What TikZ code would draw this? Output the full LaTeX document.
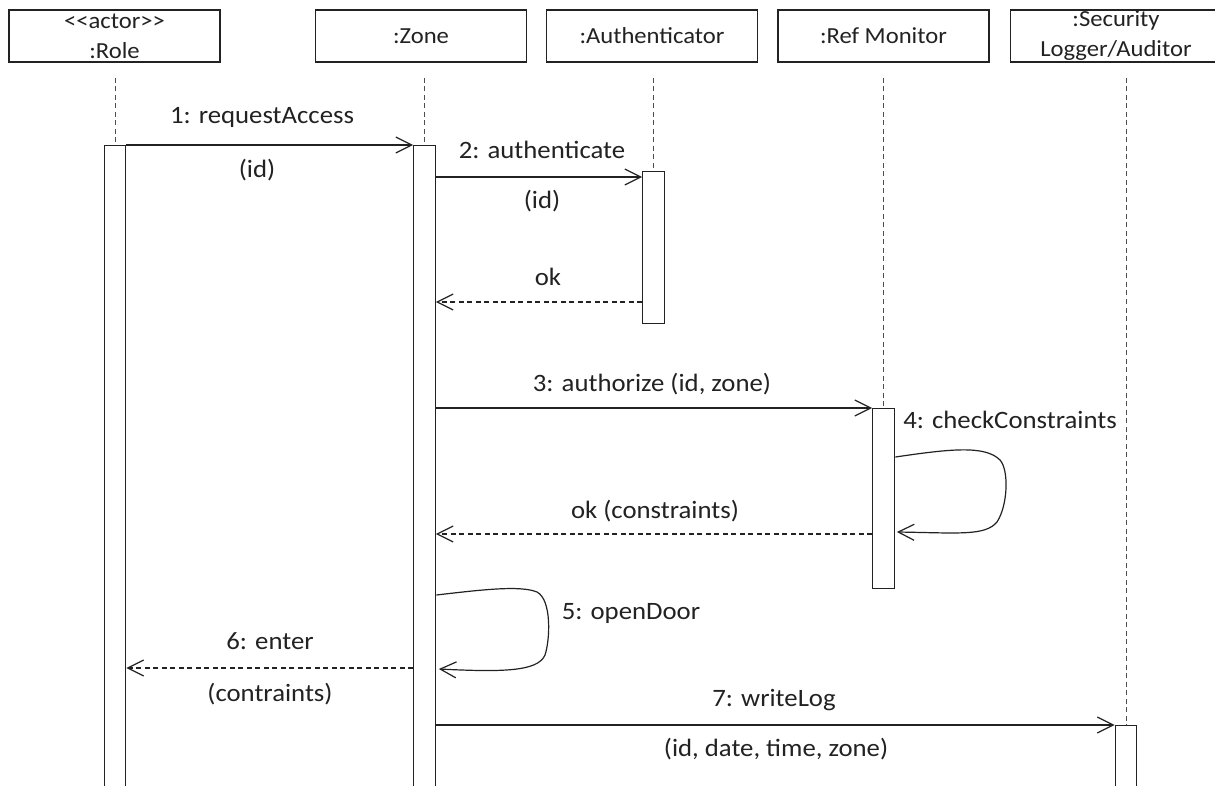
\documentclass[tikz,border=0pt]{standalone}
\usepackage{fontspec}
\setmainfont{Carlito}[FakeStretch=1.07]
\usetikzlibrary{arrows.meta}
\definecolor{ink}{HTML}{222222}
\tikzset{
  headbox/.style={draw=ink, line width=1.3pt, fill=white, minimum width=211pt, minimum height=52pt,
    align=center, inner sep=0pt, font=\fontsize{23}{30}\selectfont, text=ink},
  actbar/.style={draw=ink, line width=1.2pt, fill=white, minimum width=21.5pt, inner sep=0pt, anchor=north},
  lifeline/.style={draw=ink!80, line width=0.9pt, dash pattern=on 5pt off 3.5pt},
  msgtext/.style={inner sep=0pt, text height=17pt, text depth=5pt, font=\fontsize{25}{30}\selectfont, text=ink},
  tip/.style={-{Straight Barb[length=16pt,width=16pt,line width=1.2pt]}},
  callmsg/.style={tip, draw=ink, line width=1.2pt},
  replymsg/.style={tip, draw=ink, line width=1.1pt, dash pattern=on 5pt off 3.5pt},
}
\begin{document}
\begin{tikzpicture}[x=1pt, y=-1pt]
\useasboundingbox (0,0) rectangle (1215,786);
\clip (0,0) rectangle (1215,786);
\fill[white] (0,0) rectangle (1215,786);

% heads
\node[headbox] (roleHead) at (114.5,36) {<{}<actor>{}>\\:Role};
\node[headbox] (zoneHead) at (421,36) {:Zone};
\node[headbox] (authHead) at (652,36) {:Authenticator};
\node[headbox] (refHead) at (883.5,36) {:Ref Monitor};
\node[headbox] (secHead) at (1116,36) {:Security\\Logger/Auditor};

% level coordinates
\coordinate (lltop) at (0,78);
\coordinate (m1) at (0,145);
\coordinate (m2) at (0,177);
\coordinate (r2) at (0,302);
\coordinate (m3) at (0,408);
\coordinate (l4a) at (0,457);
\coordinate (l4b) at (0,532);
\coordinate (r3) at (0,534);
\coordinate (l5a) at (0,595);
\coordinate (l5b) at (0,669);
\coordinate (r6) at (0,668);
\coordinate (m7) at (0,725);

% activation bars
\node[actbar, minimum height=660pt] (roleBar) at (115,145) {};
\node[actbar, minimum height=660pt] (zoneBar) at (424.5,145) {};
\node[actbar, minimum height=152pt] (authBar) at (653.5,171) {};
\node[actbar, minimum height=180pt] (refBar) at (883.5,408) {};
\node[actbar, minimum height=80pt] (secBar) at (1126,725) {};

% lifelines
\draw[lifeline] (roleBar.north |- lltop) -- (roleBar.north);
\draw[lifeline] (zoneBar.north |- lltop) -- (zoneBar.north);
\draw[lifeline] (authBar.north |- lltop) -- (authBar.north);
\draw[lifeline] (refBar.north |- lltop) -- (refBar.north);
\draw[lifeline] (secBar.north |- lltop) -- (secBar.north);

% messages
\draw[callmsg] (roleBar.east |- m1) -- (zoneBar.west |- m1);
\node[msgtext] (t1) at (262,118) {1: requestAccess};
\node[msgtext] (t1b) at (257,172) {(id)};

\draw[callmsg] (zoneBar.east |- m2) -- (authBar.west |- m2);
\node[msgtext] (t2) at (542,153) {2: authenticate};
\node[msgtext] (t2b) at (542,203) {(id)};

\draw[replymsg] (authBar.west |- r2) -- (zoneBar.east |- r2);
\node[msgtext] (t2r) at (548,280) {ok};

\draw[callmsg] (zoneBar.east |- m3) -- (refBar.west |- m3);
\node[msgtext] (t3) at (652,385) {3: authorize (id, zone)};

\draw[callmsg] ([xshift=0.5pt]refBar.east |- l4a)
  .. controls (950,449) and (985,445) .. (1000,460)
  .. controls (1009,470) and (1008,505) .. (997,522)
  .. controls (985,536) and (960,533) .. ([xshift=2pt]refBar.east |- l4b);
\node[msgtext] (t4) at (1010,422) {4: checkConstraints};

\draw[replymsg] (refBar.west |- r3) -- (zoneBar.east |- r3);
\node[msgtext] (t3r) at (655,512) {ok (constraints)};

\draw[callmsg] ([xshift=0.5pt]zoneBar.east |- l5a)
  .. controls (480,590) and (520,585) .. (537,592)
  .. controls (552,600) and (550,640) .. (545,655)
  .. controls (538,672) and (500,672) .. ([xshift=3pt]zoneBar.east |- l5b);
\node[msgtext] (t5) at (631,613) {5: openDoor};

\draw[replymsg] (zoneBar.west |- r6) -- (roleBar.east |- r6);
\node[msgtext] (t6) at (270,643) {6: enter};
\node[msgtext] (t6b) at (270,695) {(contraints)};

\draw[callmsg] (zoneBar.east |- m7) -- (secBar.west |- m7);
\node[msgtext] (t7) at (774,700) {7: writeLog};
\node[msgtext] (t7b) at (776,750) {(id, date, time, zone)};
\end{tikzpicture}
\end{document}
